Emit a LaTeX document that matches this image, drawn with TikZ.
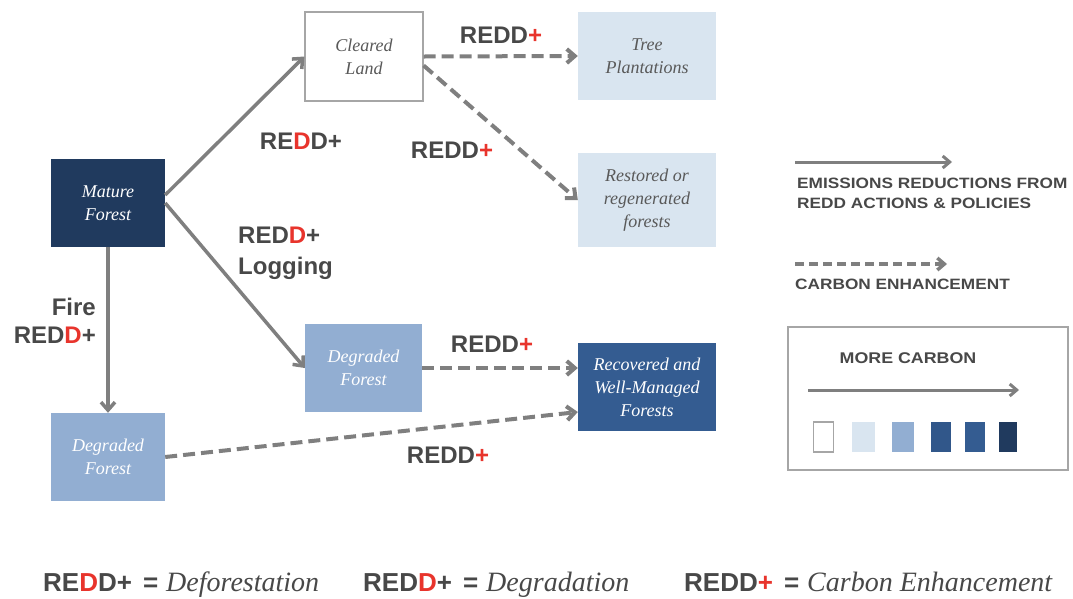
\documentclass[tikz,border=0pt]{standalone}
\usepackage{fontspec}
\setmainfont{Liberation Serif}
\setsansfont{Liberation Sans}
\newfontfamily\keyfont[FakeStretch=1.15]{Liberation Sans}
\usetikzlibrary{arrows.meta}

\definecolor{navy}{HTML}{203A5E}
\definecolor{midblue}{HTML}{345C91}
\definecolor{paleblue}{HTML}{92AED2}
\definecolor{lightblue}{HTML}{D9E5F0}
\definecolor{linegray}{HTML}{7F7F7F}
\definecolor{framegray}{HTML}{A6A6A6}
\definecolor{textgray}{HTML}{484848}
\definecolor{boxgray}{HTML}{595959}
\definecolor{reddred}{HTML}{E8342C}

\newcommand\boxtext{\fontsize{18}{23}\selectfont\itshape}
\newcommand\tagtext{\sffamily\bfseries\fontsize{24}{28}\selectfont}
\newcommand\keytext{\keyfont\bfseries\fontsize{15}{20}\selectfont}
\newcommand\reddDef{RE\textcolor{reddred}{D}D+}
\newcommand\reddDeg{RED\textcolor{reddred}{D}+}
\newcommand\reddEnh{REDD\textcolor{reddred}{+}}
\newcommand\eqline[2]{{\sffamily\bfseries\fontsize{26}{30}\selectfont #1\hspace{11pt}=}\hspace{8pt}{\fontsize{28}{30}\selectfont\itshape #2}}

\begin{document}
\begin{tikzpicture}[x=1pt,y=-1pt,
  box/.style={inner sep=0pt, align=center, font=\boxtext},
  darkbox/.style={box, fill=navy, text=white},
  bluebox/.style={box, fill=midblue, text=white},
  palebox/.style={box, fill=paleblue, text=white},
  lightbox/.style={box, fill=lightblue, text=boxgray},
  emptybox/.style={box, fill=white, draw=framegray, line width=1.2pt, text=boxgray},
  tag/.style={inner sep=0pt, text=textgray, font=\tagtext},
  keylabel/.style={inner sep=0pt, text=textgray, font=\keytext, align=left},
  loss/.style={draw=linegray, line width=3.5pt, -{Straight Barb[length=8pt,width=14pt]}},
  gain/.style={draw=linegray, line width=4pt, dash pattern=on 12pt off 6pt,
    -{Straight Barb[length=8pt,width=14pt]}},
  swatch/.style={inner sep=0pt, minimum height=30pt},
]
\useasboundingbox (0,0) rectangle (1073,598);

% forest states
\node[darkbox, minimum width=114pt, minimum height=88pt] (mature) at (108,203) {Mature\\Forest};
\node[emptybox, minimum width=118pt, minimum height=89pt] (cleared) at (364,56.5) {Cleared\\Land};
\node[lightbox, minimum width=138pt, minimum height=88pt] (tree) at (647,56) {Tree\\Plantations};
\node[lightbox, minimum width=138pt, minimum height=94pt] (restored) at (647,200) {Restored or\\regenerated\\forests};
\node[palebox, minimum width=117pt, minimum height=88pt] (degmid) at (363.5,368) {Degraded\\Forest};
\node[bluebox, minimum width=138pt, minimum height=88pt] (recovered) at (647,387) {Recovered and\\Well-Managed\\Forests};
\node[palebox, minimum width=114pt, minimum height=88pt] (degleft) at (108,457) {Degraded\\Forest};

% emission pathways
\draw[loss] ([yshift=8pt]mature.east) -- (cleared.west);
\draw[loss] (mature.east) -- (degmid.west);
\draw[loss] (mature.south) -- (degleft.north);

% carbon enhancement pathways
\draw[gain] (cleared.east) -- (tree.west);
\draw[gain] ([yshift=-9pt]cleared.east) -- (restored.west);
\draw[gain] (degmid.east) -- (recovered.west |- degmid.east);
\draw[gain] (degleft.east) -- ([yshift=-25pt]recovered.west);

% pathway labels
\node[tag] (tdef) at (301,141) {\reddDef};
\node[tag, anchor=north west, align=left, font=\sffamily\bfseries\fontsize{24}{31}\selectfont] (tlog) at (238,227) {\reddDeg\\Logging};
\node[tag, anchor=north east, align=right] (tfire) at (96,298) {Fire\\\reddDeg};
\node[tag] (tplant) at (501,35) {\reddEnh};
\node[tag] (trest) at (452,150) {\reddEnh};
\node[tag] (tdegmid) at (492,344) {\reddEnh};
\node[tag] (tdegleft) at (448,455) {\reddEnh};

% key
\coordinate (k1a) at (795,162);
\coordinate (k1b) at (952,162);
\draw[draw=linegray, line width=3pt, -{Straight Barb[length=7pt,width=12pt]}] (k1a) -- (k1b);
\node[keylabel, anchor=north west] (k1t) at (797,178) {EMISSIONS REDUCTIONS FROM\\REDD ACTIONS \& POLICIES};

\coordinate (k2a) at (795,264);
\coordinate (k2b) at (947,264);
\draw[draw=linegray, line width=3.5pt, dash pattern=on 9pt off 5pt, -{Straight Barb[length=7pt,width=12pt]}] (k2a) -- (k2b);
\node[keylabel, anchor=west] (k2t) at (795,284) {CARBON ENHANCEMENT};

\node[draw=framegray, line width=1.2pt, inner sep=0pt, minimum width=280pt, minimum height=143pt] (scale) at (928,398.5) {};
\node[keylabel, font=\keyfont\bfseries\fontsize{15.5}{20}\selectfont] (more) at (908,358) {MORE CARBON};
\coordinate (k3a) at (808,390);
\coordinate (k3b) at (1019,390);
\draw[draw=linegray, line width=3pt, -{Straight Barb[length=7pt,width=12pt]}] (k3a) -- (k3b);

\node[swatch, minimum width=20pt, fill=white, draw=framegray, line width=1.2pt] (s1) at (823.5,437) {};
\node[swatch, minimum width=23pt, fill=lightblue] (s2) at (863.5,437) {};
\node[swatch, minimum width=22pt, fill=paleblue] (s3) at (903,437) {};
\node[swatch, minimum width=20pt, fill=midblue!95!black] (s4) at (941,437) {};
\node[swatch, minimum width=20pt, fill=midblue] (s5) at (975,437) {};
\node[swatch, minimum width=18pt, fill=navy] (s6) at (1008,437) {};

% definitions of the highlighted letters
\node[inner sep=0pt, anchor=base west, text=textgray] (d1) at (43,591) {\eqline{\reddDef}{Deforestation}};
\node[inner sep=0pt, anchor=base west, text=textgray] (d2) at (363,591) {\eqline{\reddDeg}{Degradation}};
\node[inner sep=0pt, anchor=base west, text=textgray] (d3) at (684,591) {\eqline{\reddEnh}{Carbon Enhancement}};
\end{tikzpicture}
\end{document}
